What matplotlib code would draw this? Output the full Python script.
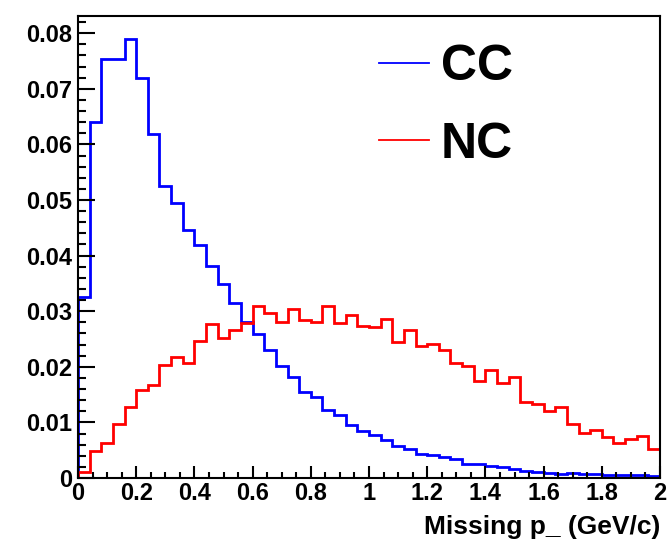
import numpy as np
import matplotlib
matplotlib.use("Agg")
import matplotlib.pyplot as plt
from matplotlib.lines import Line2D
from matplotlib.ticker import MultipleLocator, FormatStrFormatter

# 50 bins of 0.04 GeV/c between 0 and 2
x_range = (0.0, 2.0)
n_bins = 50
cc = [0.0325, 0.0640, 0.0754, 0.0754, 0.0789, 0.0719, 0.0618, 0.0526, 0.0494, 0.0446,
      0.0419, 0.0381, 0.0349, 0.0314, 0.0281, 0.0259, 0.0231, 0.0201, 0.0181, 0.0155,
      0.0146, 0.0122, 0.0113, 0.0095, 0.0085, 0.0077, 0.0068, 0.0058, 0.0053, 0.0044,
      0.0041, 0.0037, 0.0035, 0.0026, 0.0026, 0.0022, 0.0019, 0.0016, 0.0013, 0.0011,
      0.0009, 0.0008, 0.0009, 0.0007, 0.0007, 0.0006, 0.0006, 0.0006, 0.0005, 0.0003]
nc = [0.0011, 0.0048, 0.0063, 0.0098, 0.0128, 0.0158, 0.0168, 0.0203, 0.0218, 0.0207,
      0.0247, 0.0277, 0.0252, 0.0266, 0.0278, 0.0309, 0.0296, 0.0281, 0.0304, 0.0284,
      0.0281, 0.0309, 0.0279, 0.0294, 0.0273, 0.0271, 0.0286, 0.0244, 0.0266, 0.0238,
      0.0241, 0.0231, 0.0207, 0.0201, 0.0175, 0.0195, 0.0170, 0.0181, 0.0137, 0.0133,
      0.0121, 0.0128, 0.0098, 0.0081, 0.0086, 0.0073, 0.0063, 0.0071, 0.0075, 0.0052]
labels = ["CC", "NC"]
colors = ["#0000ff", "#ff0000"]
x_title = "Missing p_ (GeV/c)"

plt.rcParams["font.family"] = ["Liberation Sans", "DejaVu Sans"]
plt.rcParams["font.weight"] = "bold"

edges = np.linspace(x_range[0], x_range[1], n_bins + 1)
fig = plt.figure(figsize=(6.71, 5.42), dpi=100)
ax = fig.add_axes([78 / 671, 1 - 478 / 542, (660 - 78) / 671, (478 - 16) / 542])

for vals, col in zip([cc, nc], colors):
    ax.stairs(vals, edges, baseline=0, color=col, lw=2.0)

ax.set_xlim(*x_range)
ax.set_ylim(0, 0.0831)
ax.xaxis.set_major_locator(MultipleLocator(0.2))
ax.xaxis.set_minor_locator(MultipleLocator(0.05))
ax.yaxis.set_major_locator(MultipleLocator(0.01))
ax.yaxis.set_minor_locator(MultipleLocator(0.002))
ax.xaxis.set_major_formatter(FormatStrFormatter("%g"))
ax.yaxis.set_major_formatter(FormatStrFormatter("%g"))
ax.tick_params(axis="y", which="major", direction="in", length=12, width=1.5, labelsize=17, pad=4)
ax.tick_params(axis="y", which="minor", direction="in", length=6, width=1.5)
ax.tick_params(axis="x", which="major", direction="in", length=8.5, width=1.5, labelsize=17, pad=3)
ax.tick_params(axis="x", which="minor", direction="in", length=4.3, width=1.5)
for lab in ax.get_xticklabels() + ax.get_yticklabels():
    lab.set_fontweight("bold")
for sp in ax.spines.values():
    sp.set_linewidth(1.5)

ax.set_xlabel(x_title, fontsize=19, fontweight="bold", loc="right", labelpad=7)

handles = [Line2D([], [], color=c, lw=1.3) for c in colors]
ax.legend(handles, labels, loc="upper left", bbox_to_anchor=(379 / 671, 1 - 44 / 542),
          bbox_transform=fig.transFigure, frameon=False,
          prop={"weight": "bold", "size": 36}, handlelength=1.0, handletextpad=0.24,
          labelspacing=0.63, borderpad=0, borderaxespad=0)

fig.savefig("out.png", dpi=100)
